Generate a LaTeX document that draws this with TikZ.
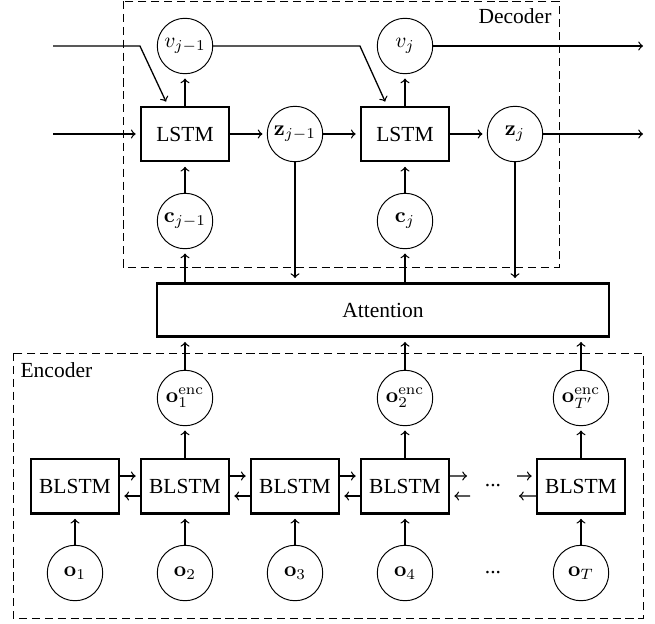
\documentclass[tikz,border=0pt]{standalone}
\usepackage[no-math]{fontspec}
\setmainfont{Liberation Serif}
\begin{document}
\begin{tikzpicture}[x=0.465pt,y=-0.465pt,
  box/.style={draw,line width=1.1pt,minimum width=40.8pt,minimum height=25.4pt,inner sep=1pt},
  var/.style={draw,circle,line width=0.45pt,minimum size=25.8pt,inner sep=0.5pt},
  arr/.style={->,line width=0.6pt,shorten >=2pt},
  freearr/.style={->,line width=0.6pt},
  region/.style={draw,line width=0.45pt,dash pattern=on 3.8pt off 2.2pt}]
\useasboundingbox (0,0) rectangle (655,623);

% regions
\draw[region] (123,1) rectangle (559,267);
\node[anchor=north east] (declabel) at (559,1) {Decoder};
\draw[region] (13,353) rectangle (643,618);
\node[anchor=north west] (enclabel) at (13,355) {Encoder};

% decoder
\node[var] (v1) at (185,46) {$v_{j-1}$};
\node[box] (l1) at (185,134) {LSTM};
\node[var] (z1) at (295,134) {$\mathbf{z}_{j-1}$};
\node[var] (c1) at (185,221) {$\mathbf{c}_{j-1}$};
\node[var] (v2) at (405,46) {$v_j$};
\node[box] (l2) at (405,134) {LSTM};
\node[var] (z2) at (515,134) {$\mathbf{z}_j$};
\node[var] (c2) at (405,221) {$\mathbf{c}_j$};

\coordinate (in1) at (53,46);
\coordinate (in2) at (53,134);
\coordinate (out1) at (643,46);
\coordinate (out2) at (643,134);

% attention
\node[box,minimum width=210pt,minimum height=24.6pt] (att) at (383,310) {Attention};

% encoder
\node[var] (e1) at (185,398) {$\mathbf{o}^{\mathrm{enc}}_1$};
\node[var] (e2) at (405,398) {$\mathbf{o}^{\mathrm{enc}}_2$};
\node[var] (e3) at (581,398) {$\mathbf{o}^{\mathrm{enc}}_{T'}$};

\node[box] (b1) at (75,486) {BLSTM};
\node[box] (b2) at (185,486) {BLSTM};
\node[box] (b3) at (295,486) {BLSTM};
\node[box] (b4) at (405,486) {BLSTM};
\node[box] (b5) at (581,486) {BLSTM};
\node (d1) at (493,486) {...};

\node[var] (o1) at (75,573) {$\mathbf{o}_1$};
\node[var] (o2) at (185,573) {$\mathbf{o}_2$};
\node[var] (o3) at (295,573) {$\mathbf{o}_3$};
\node[var] (o4) at (405,573) {$\mathbf{o}_4$};
\node[var] (o5) at (581,573) {$\mathbf{o}_T$};
\node (d2) at (493,573) {...};

\coordinate (p1) at (467,476);
\coordinate (p2) at (470,496);
\coordinate (p3) at (517,476);
\coordinate (p4) at (519,496);

% decoder connectors
\draw[arr] (in1) -- (l1.north west |- in1) -- ([xshift=-8pt]l1.north);
\draw[arr] (v1.east) -- (l2.north west |- v1) -- ([xshift=-8.4pt]l2.north);
\draw[freearr] (v2.east) -- (out1);
\draw[arr] (in2) -- (l1);
\draw[arr] (l1) -- (z1);
\draw[arr] (z1) -- (l2);
\draw[arr] (l2) -- (z2);
\draw[freearr] (z2) -- (out2);
\draw[arr] (l1) -- (v1);
\draw[arr] (l2) -- (v2);
\draw[arr] (c1) -- (l1);
\draw[arr] (c2) -- (l2);

% attention connectors
\draw[arr] (c1 |- att.north) -- (c1);
\draw[arr] (c2 |- att.north) -- (c2);
\draw[arr] (z1) -- (z1 |- att.north);
\draw[arr] (z2) -- (z2 |- att.north);
\draw[arr] (e1) -- (e1 |- att.south);
\draw[arr] (e2) -- (e2 |- att.south);
\draw[arr] (e3) -- (e3 |- att.south);

% encoder connectors
\draw[arr] (b2) -- (e1);
\draw[arr] (b4) -- (e2);
\draw[arr] (b5) -- (e3);
\foreach \i in {1,...,5} { \draw[arr] (o\i) -- (b\i); }
\foreach \a/\b in {b1/b2,b2/b3,b3/b4} {
  \draw[arr] ([yshift=4.65pt]\a.east) -- ([yshift=4.65pt]\b.west);
  \draw[arr] ([yshift=-4.65pt]\b.west) -- ([yshift=-4.65pt]\a.east);
}
\draw[freearr] ([yshift=4.65pt]b4.east) -- (p1);
\draw[arr] (p2) -- ([yshift=-4.65pt]b4.east);
\draw[arr] (p3) -- ([yshift=4.65pt]b5.west);
\draw[freearr] ([yshift=-4.65pt]b5.west) -- (p4);
\end{tikzpicture}
\end{document}
